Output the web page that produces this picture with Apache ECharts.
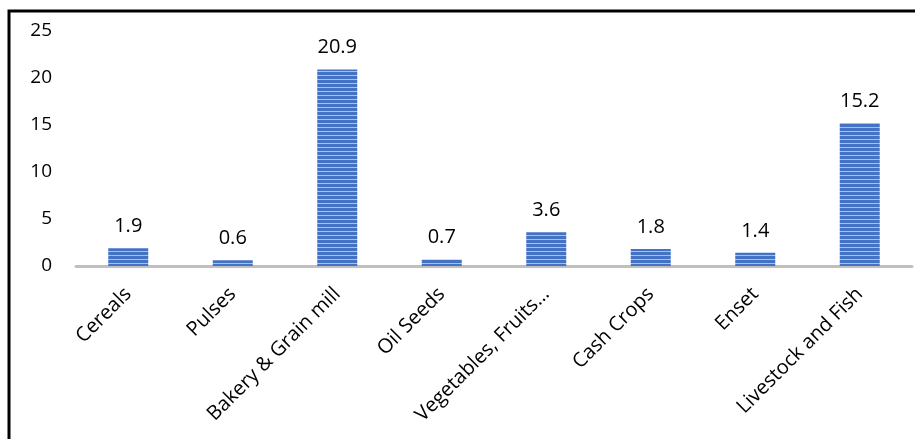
<!DOCTYPE html>
<html><head><meta charset="utf-8">
<script src="https://cdn.jsdelivr.net/npm/echarts@6/dist/echarts.min.js"></script>
<style>html,body{margin:0;padding:0;background:#fff}#c{width:915px;height:439px}</style>
</head><body><div id="c"></div>
<script>
const categories = ["Cereals","Pulses","Bakery & Grain mill","Oil Seeds","Vegetables, Fruits…","Cash Crops","Enset","Livestock and Fish"];
const values = [1.9,0.6,20.9,0.7,3.6,1.8,1.4,15.2];
const yTicks = [0,5,10,15,20,25];

const pc = document.createElement('canvas');
pc.width = 4; pc.height = 4;
const ctx = pc.getContext('2d');
ctx.fillStyle = '#4472c4'; ctx.fillRect(0,0,4,4);
ctx.fillStyle = '#a9bfe8'; ctx.fillRect(0,3,4,1);

const chart = echarts.init(document.getElementById('c'));
chart.setOption({
  animation:false,
  grid:{left:76,right:3,top:31,bottom:173,containLabel:false},
  xAxis:{type:'category',data:categories,
    axisLine:{lineStyle:{color:'#bfbfbf',width:3}},
    axisTick:{show:false},
    axisLabel:{rotate:45,interval:0,color:'#000',fontSize:20,fontFamily:'Open Sans',margin:25}},
  yAxis:{type:'value',min:yTicks[0],max:yTicks[yTicks.length-1],interval:5,
    axisLine:{show:false},axisTick:{show:false},splitLine:{show:false},
    axisLabel:{color:'#000',fontSize:19,fontFamily:'Open Sans',margin:24}},
  series:[{type:'bar',data:values,barWidth:40,
    itemStyle:{color:{image:pc,repeat:'repeat'}},
    label:{show:true,position:'top',distance:12,color:'#000',fontSize:20,fontFamily:'Open Sans'}}],
  graphic:[{type:'rect',shape:{x:9,y:11,width:1000,height:1000},style:{fill:null,stroke:'#000',lineWidth:3},silent:true}]
});
</script></body></html>
